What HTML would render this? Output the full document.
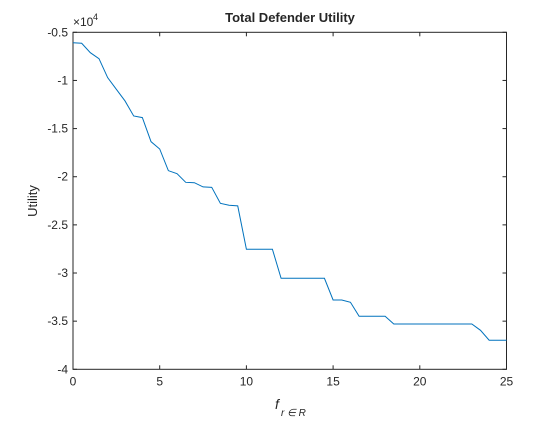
<!DOCTYPE html>
<html><head><meta charset="utf-8"><style>
body{margin:0;background:#fff;}
svg text{font-family:"Liberation Sans",Arial,sans-serif;fill:#262626;}
</style></head><body>
<svg id="chart" width="560" height="420" viewBox="0 0 560 420" xmlns="http://www.w3.org/2000/svg">
<rect width="560" height="420" fill="#fff"/>
<g id="g"></g>
</svg>
<script>
const xs=[0,0.5,1,1.5,2,2.5,3,3.5,4,4.5,5,5.5,6,6.5,7,7.5,8,8.5,9,9.5,10,10.5,11,11.5,12,12.5,13,13.5,14,14.5,15,15.5,16,16.5,17,17.5,18,18.5,19,19.5,20,20.5,21,21.5,22,22.5,23,23.5,24,24.5,25];
const ys=[-0.608,-0.614,-0.712,-0.774,-0.971,-1.092,-1.213,-1.369,-1.386,-1.636,-1.712,-1.937,-1.968,-2.058,-2.062,-2.106,-2.11,-2.276,-2.296,-2.303,-2.753,-2.753,-2.753,-2.753,-3.055,-3.055,-3.055,-3.055,-3.055,-3.055,-3.28,-3.28,-3.304,-3.449,-3.449,-3.449,-3.449,-3.529,-3.529,-3.529,-3.529,-3.529,-3.529,-3.529,-3.529,-3.529,-3.529,-3.595,-3.698,-3.698,-3.698];
const xTicks=[0,5,10,15,20,25];
const yTicks=[-0.5,-1,-1.5,-2,-2.5,-3,-3.5,-4];
const yTickLabels=["-0.5","-1","-1.5","-2","-2.5","-3","-3.5","-4"];
const L=73,R=506.5,T=32.3,B=369.3;
const sx=v=>L+(v-0)/(25-0)*(R-L);
const sy=v=>T+(-0.5-v)/3.5*(B-T);
const g=document.getElementById('g');
const NS='http://www.w3.org/2000/svg';
function mk(tag,attrs,txt){const e=document.createElementNS(NS,tag);for(const k in attrs)e.setAttribute(k,attrs[k]);if(txt!==undefined)e.textContent=txt;g.appendChild(e);return e;}
let e=mk('rect',{x:L,y:T,width:R-L,height:B-T,fill:'#fff',stroke:'#262626','stroke-width':1});


xTicks.forEach(v=>{const x=sx(v);
 mk('line',{x1:x,x2:x,y1:B,y2:B-4,stroke:'#262626'});
 mk('line',{x1:x,x2:x,y1:T,y2:T+4,stroke:'#262626'});
 const t=mk('text',{x:x,y:B+16,'text-anchor':'middle','font-size':'12'},String(v));
 
 
});
yTicks.forEach((v,i)=>{const y=sy(v);
 mk('line',{x1:L,x2:L+4,y1:y,y2:y,stroke:'#262626'});
 mk('line',{x1:R,x2:R-4,y1:y,y2:y,stroke:'#262626'});
 const t=mk('text',{x:L-5,y:y+4,'text-anchor':'end','font-size':'12'},yTickLabels[i]);
 
 
});
const p=mk('polyline',{points:xs.map((x,i)=>sx(x)+','+sy(ys[i])).join(' '),fill:'none',stroke:'#0072BD','stroke-width':1});


let t=mk('text',{x:290,y:22,'text-anchor':'middle','font-size':'13','font-weight':'bold'},'Total Defender Utility');


t=mk('text',{x:73,y:26,'font-size':'12'},'\u00d710');


t=mk('text',{x:93,y:20,'font-size':'9'},'4');


t=mk('text',{x:0,y:0,'text-anchor':'middle','font-size':'13',transform:'translate(37,201) rotate(-90)'},'Utility');


t=mk('text',{x:275,y:409,'font-size':'14','font-style':'italic'},'f');


t=mk('text',{x:281,y:416,'font-size':'10','font-style':'italic'},'r \u2208 R');


</script>
</body></html>
